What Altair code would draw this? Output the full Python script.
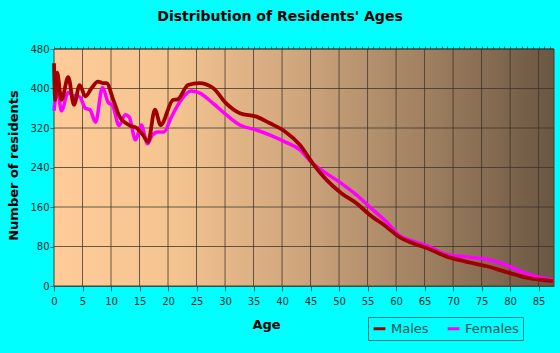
import altair as alt
import pandas as pd

male_age = [0, 0.2, 0.55, 1.3, 2.5, 3.5, 4.5, 5.5, 6.6, 7.7, 8.6, 9.2, 10.4, 11.5, 13.3, 14.5, 15.6, 16.5,
            17.7, 18.7, 20.9, 21.7, 23.5, 25.5, 27.9, 30.2, 32.6, 35.5, 37.8, 40.5, 43.1, 45.4,
            47.8, 50.4, 53.1, 55.4, 58.3, 60.6, 62.4, 65.6, 68.8, 72.4, 75.9, 79.4, 82.9, 87.5]
male_val = [451, 377, 432, 377, 423, 367, 407, 384, 401, 414, 411, 411, 377, 343, 325, 320, 306, 292,
            357, 326, 377, 378, 407, 411, 401, 370, 350, 343, 330, 313, 286, 248,
            215, 188, 167, 144, 120, 99, 89, 76, 60, 49, 40, 28, 17, 10]

female_age = [0, 0.6, 1.3, 2.5, 3.5, 4.5, 5.5, 6.3, 7.3, 8.5, 9.5, 10.3, 11.4, 12.5, 13.2, 14.3, 15.3,
              16.4, 17.2, 18.2, 19.3, 20.5, 22.2, 24.0, 25.5, 27.9, 30.2, 32.6, 35.5, 37.8, 40.5,
              43.1, 45.4, 47.8, 50.4, 53.1, 55.4, 58.3, 60.6, 62.4, 65.6, 68.8, 72.4, 75.9, 79.4,
              82.9, 87.5]
female_val = [355, 398, 355, 392, 385, 383, 360, 357, 332, 402, 372, 365, 325, 347, 342, 296, 326,
              288, 305, 312, 312, 340, 375, 395, 391, 370, 347, 326, 316, 306, 292,
              276, 248, 228, 208, 184, 160, 130, 102, 93, 81, 64, 59, 54, 42,
              25, 12]

x_range = [0, 87.7]
y_range = [0, 480]
x_major = list(range(0, 90, 5))
x_minor = list(range(0, 88, 1))
y_ticks = [0, 80, 160, 240, 320, 400, 480]
series = ["Males", "Females"]
series_colors = ["#A00000", "#FF00FF"]

males = pd.DataFrame({"age": male_age, "residents": male_val, "sex": "Males"})
females = pd.DataFrame({"age": female_age, "residents": female_val, "sex": "Females"})
panel = pd.DataFrame({"x": [x_range[0]], "x2": [x_range[1]], "y": [y_range[0]], "y2": [y_range[1]]})
vgrid = pd.DataFrame({"age": x_major[1:]})
hgrid = pd.DataFrame({"residents": y_ticks[1:]})

x_scale = alt.Scale(domain=x_range, nice=False, zero=False)
y_scale = alt.Scale(domain=y_range, nice=False)
color_scale = alt.Scale(domain=series, range=series_colors)

label_color = "#0A2A2A"
axis_color = "#007070"
grid_color = "#3A3028"

x_axis = alt.Axis(values=x_major, title="Age", grid=False,
                  tickSize=5, tickColor=axis_color, domainColor=axis_color, labelPadding=5,
                  labelFontSize=10, labelColor=label_color, labelFont="DejaVu Sans",
                  titleFont="DejaVu Sans", titleFontSize=13, titleFontWeight="bold",
                  titleColor="#000000", titleX=212, titleY=38, titleAlign="center",
                  titleBaseline="middle", labelFlush=False)
x_minor_axis = alt.Axis(values=x_minor, title=None, labels=False, grid=False, domain=False,
                        tickSize=3, tickColor=axis_color)
y_axis = alt.Axis(values=y_ticks, title="Number of residents", grid=False,
                  tickSize=4, tickColor=axis_color, domainColor=axis_color,
                  labelPadding=1, labelFontSize=10, labelColor=label_color, labelFont="DejaVu Sans",
                  titleFont="DejaVu Sans", titleFontSize=13, titleFontWeight="bold",
                  titleColor="#000000", titleX=-41, titleY=116, titleAlign="center",
                  titleBaseline="middle", labelFlush=False)

legend = alt.Legend(title=None, orient="none", legendX=314, legendY=268, direction="horizontal",
                    strokeColor="#1A7A7A", padding=4, labelFontSize=13, labelFont="DejaVu Sans",
                    labelColor="#005555", symbolType="stroke", symbolStrokeWidth=3, symbolSize=140,
                    columnPadding=12, labelOffset=4)

color = alt.Color("sex:N", scale=color_scale, legend=legend)

gradient = alt.LinearGradient(
    gradient="linear", x1=0, y1=0, x2=1, y2=0,
    stops=[
        alt.GradientStop(offset=0.0, color="#FFCC99"),
        alt.GradientStop(offset=0.25, color="#F3C390"),
        alt.GradientStop(offset=0.5, color="#CDA47C"),
        alt.GradientStop(offset=0.75, color="#9E7F60"),
        alt.GradientStop(offset=1.0, color="#6A5642"),
    ],
)

bg = alt.Chart(panel).mark_rect(fill=gradient, stroke="#4A3C30", strokeWidth=1).encode(
    x=alt.X("x:Q", scale=x_scale, axis=x_axis),
    x2="x2:Q",
    y=alt.Y("y:Q", scale=y_scale, axis=y_axis),
    y2="y2:Q",
)
vrules = alt.Chart(vgrid).mark_rule(color=grid_color, opacity=0.75, strokeWidth=1).encode(
    x=alt.X("age:Q", scale=x_scale, axis=x_minor_axis),
)
hrules = alt.Chart(hgrid).mark_rule(color=grid_color, opacity=0.75, strokeWidth=1).encode(
    y=alt.Y("residents:Q", scale=y_scale, axis=None),
)
f_line = alt.Chart(females).mark_line(interpolate="monotone", strokeWidth=3.5).encode(
    x=alt.X("age:Q", scale=x_scale, axis=None),
    y=alt.Y("residents:Q", scale=y_scale, axis=None),
    color=color,
)
m_line = alt.Chart(males).mark_line(interpolate="monotone", strokeWidth=3.8).encode(
    x=alt.X("age:Q", scale=x_scale, axis=None),
    y=alt.Y("residents:Q", scale=y_scale, axis=None),
    color=color,
)

chart = alt.layer(bg, vrules, hrules, f_line, m_line).resolve_axis(
    x="independent", y="independent"
).properties(
    width=500, height=237,
    title=alt.TitleParams("Distribution of Residents' Ages", font="DejaVu Sans", fontSize=14,
                          fontWeight="bold", color="#000000", anchor="middle", dx=-24, offset=20),
    autosize=alt.AutoSizeParams(type="none"),
    padding={"left": 54, "top": 49, "right": 6, "bottom": 67},
).configure(background="#00FFFF").configure_view(stroke=None)

chart.save("out.html", embed_options={"renderer": "svg", "actions": False})
